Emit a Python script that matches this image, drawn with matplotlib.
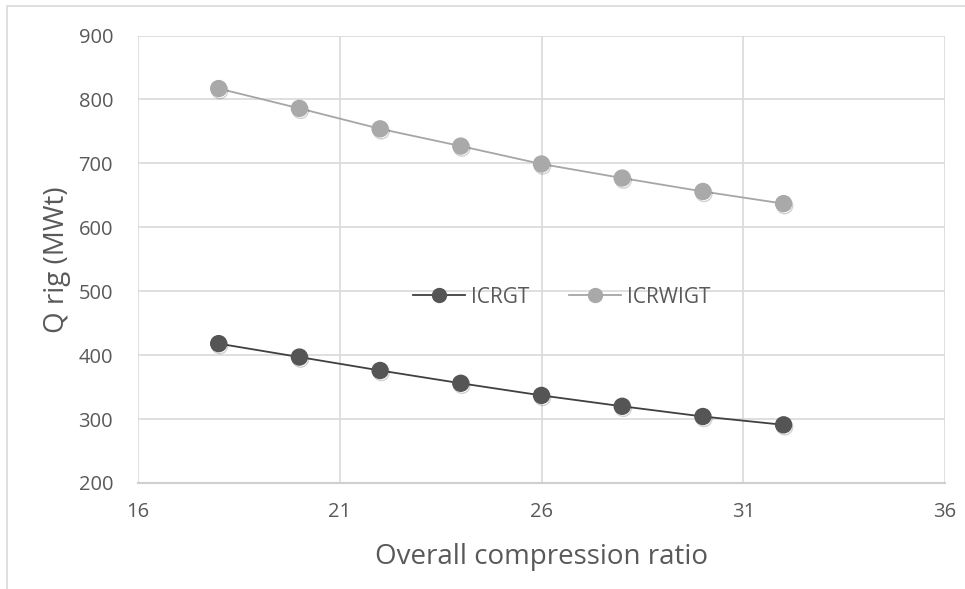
import matplotlib
matplotlib.use("Agg")
import matplotlib.pyplot as plt
import matplotlib.patheffects as pe
from matplotlib.patches import Rectangle
from matplotlib.lines import Line2D

# Data: heat input vs. overall compression ratio
compression_ratio = [18, 20, 22, 24, 26, 28, 30, 32]
icrgt = [418, 397, 376, 356, 337, 320, 304, 291]
icrwigt = [817, 786, 754, 727, 699, 677, 656, 637]

x_ticks = [16, 21, 26, 31, 36]
y_ticks = [200, 300, 400, 500, 600, 700, 800, 900]

plt.rcParams['font.family'] = ['Open Sans', 'DejaVu Sans']
text_color = '#595959'
grid_color = '#d9d9d9'

fig = plt.figure(figsize=(9.65, 5.89), dpi=100)
ax = fig.add_axes([138 / 965, 1 - 483 / 589, (945 - 138) / 965, (483 - 35.5) / 589])

# Outer chart frame
fig.patches.append(Rectangle((7 / 965, -0.05), 1.1, 1 - 6 / 589 + 0.05,
                             transform=fig.transFigure, fill=False,
                             edgecolor=grid_color, linewidth=1.2, zorder=0))

shadow = [pe.SimpleLineShadow(offset=(0.8, -1.5), shadow_color='#000000', alpha=0.18), pe.Normal()]

series = [
    ('ICRGT', icrgt, '#404040', '#555555'),
    ('ICRWIGT', icrwigt, '#a6a6a6', '#a9a9a9'),
]
handles = []
for name, values, line_color, marker_color in series:
    ax.plot(compression_ratio, values, color=line_color, linewidth=1.3, zorder=3)
    ax.plot(compression_ratio, values, linestyle='none', marker='o', markersize=11.5,
            markerfacecolor=marker_color, markeredgecolor=marker_color,
            zorder=4, path_effects=shadow)
    handles.append(Line2D([], [], color=line_color, linewidth=1.3, marker='o',
                          markersize=10, markerfacecolor=marker_color,
                          markeredgecolor=marker_color, label=name))

ax.set_xlim(16, 36)
ax.set_ylim(200, 900)
ax.set_xticks(x_ticks)
ax.set_yticks(y_ticks)
ax.grid(True, color=grid_color, linewidth=1.2)
ax.set_axisbelow(True)
ax.tick_params(length=0, labelsize=14.5, labelcolor=text_color)
ax.tick_params(axis='y', pad=18)
ax.tick_params(axis='x', pad=14)
for side in ['top', 'right', 'left']:
    ax.spines[side].set_visible(False)
ax.spines['bottom'].set_color('#cfcfcf')
ax.spines['bottom'].set_linewidth(1.5)

ax.set_xlabel('Overall compression ratio', fontsize=20, color=text_color, labelpad=15)
ax.set_ylabel('Q rig (MWt)', fontsize=20, color=text_color)
ax.yaxis.set_label_coords((71 - 138) / 807, 0.5)

leg = ax.legend(handles=handles, loc='center', bbox_to_anchor=(0.525, 0.415), ncol=2,
                frameon=False, fontsize=15, handlelength=2.5, columnspacing=1.9,
                handletextpad=0.3)
for t in leg.get_texts():
    t.set_color(text_color)

fig.savefig('out.png', dpi=100)
